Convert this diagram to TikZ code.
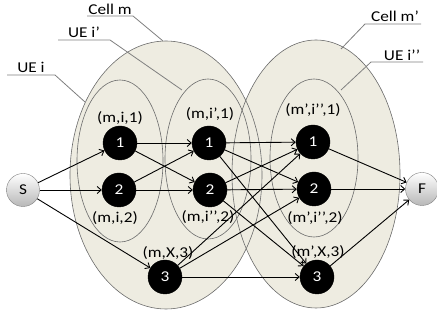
\documentclass[tikz,border=0pt]{standalone}
\usepackage{fontspec}
\setmainfont{Carlito}[FakeStretch=1.15]
\usetikzlibrary{arrows.meta}
\definecolor{cellfill}{HTML}{EEECE1}
\definecolor{cellline}{HTML}{6B6B6B}
\definecolor{leader}{HTML}{7F7F7F}
\tikzset{
  blk/.style={circle,fill=black,draw=black,minimum size=34pt,inner sep=0pt,text=white,font=\fontsize{15}{18}\selectfont},
  term/.style={circle,draw=leader,top color=white,bottom color=black!28,minimum size=33pt,inner sep=0pt,font=\fontsize{15}{18}\selectfont},
  lbl/.style={inner sep=0pt,font=\fontsize{15}{18}\selectfont},
  arr/.style={-{Straight Barb[length=4pt,width=7pt]},line width=0.9pt},
  cell/.style={fill=cellfill,draw=none},
  cellb/.style={draw=cellline,line width=0.6pt},
  lead/.style={draw=leader,line width=0.8pt}
}
\begin{document}
\begin{tikzpicture}[x=1pt,y=-1pt]
\useasboundingbox (0,0) rectangle (437,320);
% fills
\fill[cellfill] (166,175) ellipse [x radius=96pt, y radius=134pt];
\fill[cellfill] (316,174) ellipse [x radius=84pt, y radius=134pt];
% outlines
\draw[cellb] (166,175) ellipse [x radius=96pt, y radius=134pt];
\draw[cellb] (316,174) ellipse [x radius=84pt, y radius=134pt];
\draw[cellb] (120,161) ellipse [x radius=43pt, y radius=81pt];
\draw[cellb] (208,159) ellipse [x radius=43pt, y radius=80pt];
\draw[cellb] (314,158) ellipse [x radius=44pt, y radius=79pt];
% callouts
\node[lbl] (tcm) at (110,9) {Cell m};
\coordinate (cm1) at (87,16); \coordinate (cm2) at (133,16); \coordinate (cm3) at (163,41);
\draw[lead] (cm1) -- (cm2) -- (cm3);
\node[lbl] (tuei2) at (84,32) {UE i’};
\coordinate (u21) at (58,40); \coordinate (u22) at (110,40); \coordinate (u23) at (182,90);
\draw[lead] (u21) -- (u22) -- (u23);
\node[lbl] (tuei) at (31,67) {UE i};
\coordinate (u11) at (7,75); \coordinate (u12) at (55,75); \coordinate (u13) at (85,102);
\draw[lead] (u11) -- (u12) -- (u13);
\node[lbl] (tcm2) at (395,16) {Cell m’};
\coordinate (c21) at (421,24); \coordinate (c22) at (365,24); \coordinate (c23) at (341,49);
\draw[lead] (c21) -- (c22) -- (c23);
\node[lbl] (tuei3) at (402,55) {UE i’’};
\coordinate (u31) at (423,62); \coordinate (u32) at (371,62); \coordinate (u33) at (341,90);
\draw[lead] (u31) -- (u32) -- (u33);
% nodes
\node[term] (S) at (23,190) {S};
\node[term] (F) at (422,189) {F};
\node[blk] (a1) at (120,143) {1};
\node[blk] (a2) at (119,190) {2};
\node[blk] (b1) at (209,143) {1};
\node[blk] (b2) at (210,190) {2};
\node[blk] (a3) at (165,277) {3};
\node[blk] (c1) at (313,142) {1};
\node[blk] (c2) at (314,189) {2};
\node[blk] (c3) at (317,277) {3};
% node labels
\node[lbl] (la1) at (120,118) {(m,i,1)};
\node[lbl] (lb1) at (210,114) {(m,i’,1)};
\node[lbl] (lc1) at (313,110) {(m’,i’’,1)};
\node[lbl] (la2) at (115,218) {(m,i,2)};
\node[lbl] (lb2) at (208,217) {(m,i’’,2)};
\node[lbl] (la3) at (168,253) {(m,X,3)};
\node[lbl] (lc2) at (315,218) {(m’,i’’,2)};
\node[lbl] (lc3) at (318,252) {(m’,X,3)};
% edges
\draw[arr] (S) -- (a1);
\draw[arr] (S) -- (a2);
\draw[arr] (S) -- (a3);
\draw[arr] (a1) -- (b1);
\draw[arr] (a1) -- (b2);
\draw[arr] (a2) -- (b1);
\draw[arr] (a2) -- (b2);
\draw[arr] (b1) -- (c1);
\draw[arr] (b1) -- (c2);
\draw[arr] (b1) -- (c3);
\draw[arr] (b2) -- (c1);
\draw[arr] (b2) -- (c2);
\draw[arr] (b2) -- (c3);
\draw[arr] (a3) -- (c1);
\draw[arr] (a3) -- (c2);
\draw[arr] (a3) -- (c3);
\draw[arr] (c1) -- (F);
\draw[arr] (c2) -- (F);
\draw[arr] (c3) -- (F);
\end{tikzpicture}
\end{document}
